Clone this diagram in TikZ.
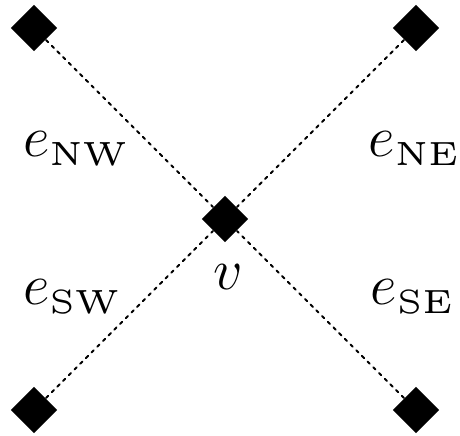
\documentclass[tikz,border=0pt]{standalone}
\usepackage{amsmath}
\usepackage{tikz}
\usetikzlibrary{shapes.geometric}

\newcommand{\subtag}[1]{\text{\scalebox{2.0}{\fontsize{5}{6}\selectfont #1}}}

\begin{document}
\begin{tikzpicture}[line cap=round, line join=round,
        vertex/.style={diamond, aspect=1, fill=black, inner sep=0pt, minimum size=0.49cm},
        edge/.style={line width=0.6pt, dash pattern=on 0.9pt off 1.5pt},
        elabel/.style={inner sep=0pt, font=\LARGE}]
            \useasboundingbox (-2.356,-2.262) rectangle (2.461,2.293);

            \node[vertex] (V) at (0,0) {};
            \node[vertex] (NW) at (-2,2) {};
            \node[vertex] (NE) at (2,2) {};
            \node[vertex] (SW) at (-2,-2) {};
            \node[vertex] (SE) at (2,-2) {};

            \draw[edge] (NW) -- (V);
            \draw[edge] (NE) -- (V);
            \draw[edge] (SW) -- (V);
            \draw[edge] (SE) -- (V);

            \node[elabel, anchor=base] (Lv) at (0.03,-0.74) {$v$};
            \node[elabel, anchor=base west] (Lnw) at (-2.12,0.65) {$e_{\subtag{NW}}$};
            \node[elabel, anchor=base west] (Lne) at (1.50,0.65) {$e_{\subtag{NE}}$};
            \node[elabel, anchor=base west] (Lsw) at (-2.12,-0.90) {$e_{\subtag{SW}}$};
            \node[elabel, anchor=base west] (Lse) at (1.52,-0.90) {$e_{\subtag{SE}}$};

        \end{tikzpicture}
\end{document}
